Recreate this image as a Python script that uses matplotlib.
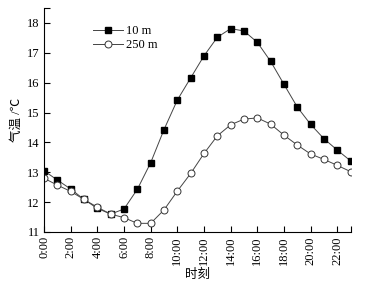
import numpy as np
import matplotlib.pyplot as plt
from matplotlib.ticker import FixedLocator

# datos
horas = np.arange(24)
t_10m = [13.05, 12.74, 12.44, 12.09, 11.79, 11.60, 11.77, 12.43, 13.32, 14.43, 15.42, 16.16,
         16.90, 17.52, 17.81, 17.73, 17.35, 16.71, 15.94, 15.18, 14.60, 14.12, 13.74, 13.38]
t_250m = [12.80, 12.57, 12.36, 12.09, 11.83, 11.60, 11.48, 11.29, 11.29, 11.74, 12.37, 12.96,
          13.63, 14.22, 14.59, 14.78, 14.82, 14.61, 14.24, 13.91, 13.61, 13.43, 13.23, 13.02]
etiquetas_x = ["%d:00" % h for h in range(0, 24, 2)]

plt.rcParams['font.family'] = ['Liberation Serif', 'Noto Sans CJK SC']
plt.rcParams['font.size'] = 9

fig = plt.figure(figsize=(3.69, 2.85), dpi=100)
ax = fig.add_axes([44/369, 53/285, 306.7/369, 224/285])

ax.plot(horas, t_10m, color='#444444', lw=0.7, marker='s', ms=4.5,
        mfc='black', mec='black', label='10 m')
ax.plot(horas, t_250m, color='#444444', lw=0.7, marker='o', ms=5,
        mfc='white', mec='#333333', mew=0.7, label='250 m')

ax.set_xlim(0, 23)
ax.set_ylim(11, 18.5)
ax.set_xticks(range(0, 24, 2))
ax.set_xticklabels(etiquetas_x, rotation=90)
ax.set_yticks(range(11, 19))
ax.xaxis.set_minor_locator(FixedLocator([23]))
ax.yaxis.set_minor_locator(FixedLocator([18.5]))
ax.tick_params(direction='in', length=4, width=0.8, pad=3)
ax.tick_params(which='minor', direction='in', length=4, width=0.8)
for s in ['top', 'right']:
    ax.spines[s].set_visible(False)

ax.set_xlabel("时刻", fontsize=9, labelpad=3)
ax.set_ylabel("气温 /℃", fontsize=9, labelpad=3)

ax.legend(loc='upper left', bbox_to_anchor=(0.14, 0.95), frameon=False,
          handlelength=2.4, handletextpad=0.2, labelspacing=0.15, borderpad=0)

fig.savefig("out.png", dpi=100)
